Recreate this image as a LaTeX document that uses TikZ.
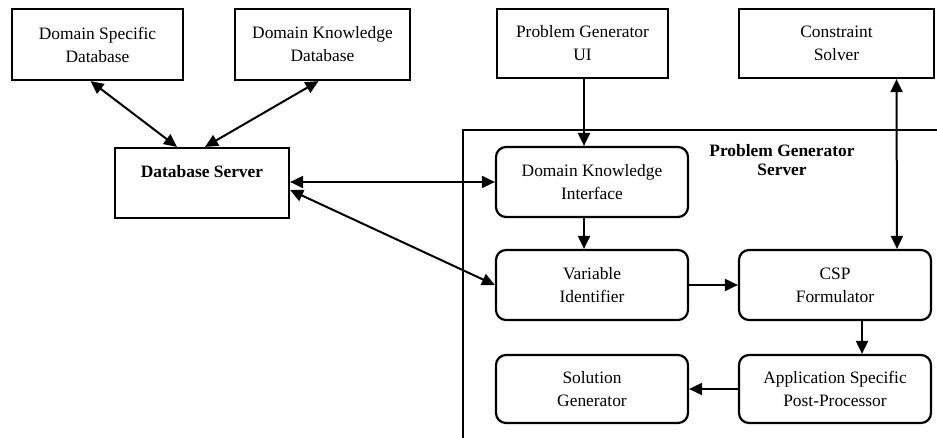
\documentclass[tikz,border=0pt]{standalone}
\usepackage{fontspec}
\setmainfont{Liberation Serif}
\usetikzlibrary{arrows.meta,calc}
\newcommand{\bx}{\fontsize{8.7}{11.5}\selectfont}
\newcommand{\tl}{\fontsize{8.7}{9.5}\selectfont}

\begin{document}
\begin{tikzpicture}[
  x=0.5pt, y=0.5pt,
  >={Triangle[length=6.5pt,width=6pt]},
  blk/.style={draw, line width=1.1pt, font=\bx, align=center, inner sep=1pt,
    minimum width=85.5pt, minimum height=35.5pt},
  unit/.style={blk, rounded corners=5pt, minimum width=96pt, minimum height=35pt},
  lnk/.style={line width=1pt},
]
  \useasboundingbox (0,0) rectangle (937,-438);

  % ---------------- databases and server
  \node[blk] (dsd) at (97.5,-44.5) {Domain Specific\\Database};
  \node[blk, minimum width=87.5pt] (dkd) at (322.5,-44.5) {Domain Knowledge\\Database};
  \node[blk, minimum width=87pt, minimum height=35pt] (dbs) at (202,-183)
    {\textbf{Database Server}\\\mbox{}};

  % ---------------- outer components
  \node[blk, minimum height=34.5pt] (pgui) at (582.5,-43.5) {Problem Generator\\UI};
  \node[blk, minimum width=97.5pt, minimum height=34.5pt] (cs) at (836.5,-43.5) {Constraint\\Solver};

  % ---------------- problem generator server
  \coordinate (fr) at (937,-130);
  \coordinate (fb) at (463,-438);
  \draw[line width=1.1pt] (fr) -| (fb);
  \node[font=\tl\bfseries, align=center] (pgs) at (782,-160) {Problem Generator\\Server};
  \node[unit] (dki) at (592,-182) {Domain Knowledge\\Interface};
  \node[unit] (vi) at (592,-285) {Variable\\Identifier};
  \node[unit] (csp) at (835,-285) {CSP\\Formulator};
  \node[unit, minimum height=34pt] (sg) at (592,-389) {Solution\\Generator};
  \node[unit, minimum height=34pt] (aspp) at (835,-389) {Application Specific\\Post-Processor};

  % ---------------- connectors
  \draw[lnk, <->] ($(dsd.south)+(-7,0)$) -- ($(dbs.north)+(-25,0)$);
  \draw[lnk, <->] ($(dkd.south)+(-4,0)$) -- ($(dbs.north)+(3,0)$);
  \draw[lnk, <->] (dbs.east |- dki.west) -- (dki.west);
  \draw[lnk, <->] ($(dbs.east)+(0,-7)$) -- (vi.west);
  \draw[lnk, ->] ($(pgui.south)+(1.5,0)$) -- ($(dki.north)+(-8,0)$);
  \draw[lnk, ->] ($(dki.south)+(-8,0)$) -- ($(vi.north)+(-8,0)$);
  \draw[lnk, <->] ($(cs.south)+(60,0)$) -- ($(csp.north)+(62,0)$);
  \draw[lnk, ->] (vi) -- (csp);
  \draw[lnk, ->] ($(csp.south)+(27,0)$) -- ($(aspp.north)+(27,0)$);
  \draw[lnk, ->] (aspp) -- (sg);
\end{tikzpicture}
\end{document}
